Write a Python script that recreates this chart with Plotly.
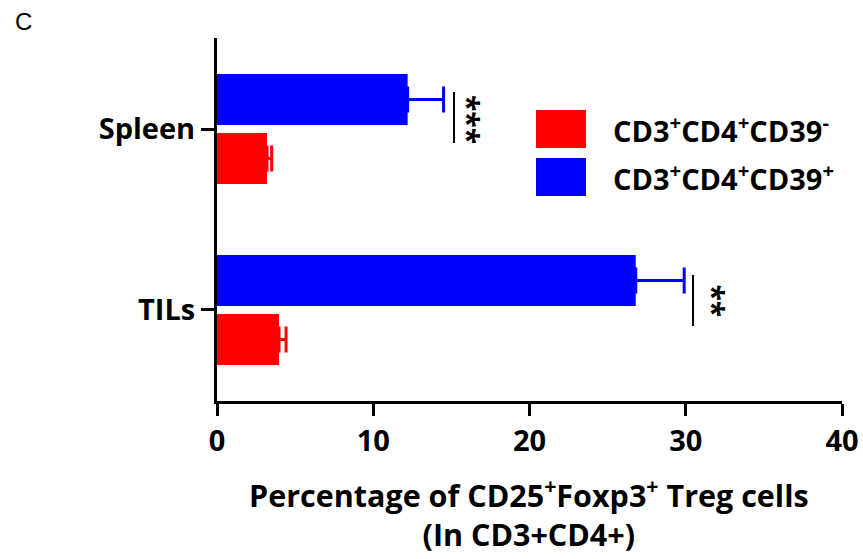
import plotly.graph_objects as go

categories = ["TILs", "Spleen"]
cd39_neg = [3.97, 3.2]
cd39_neg_err = [0.45, 0.3]
cd39_pos = [26.8, 12.2]
cd39_pos_err = [3.1, 2.3]
series_names = ["CD3<sup>+</sup>CD4<sup>+</sup>CD39<sup>-</sup>",
                "CD3<sup>+</sup>CD4<sup>+</sup>CD39<sup>+</sup>"]
x_ticks = [0, 10, 20, 30, 40]
title_lines = ["Percentage of CD25<sup>+</sup>Foxp3<sup>+</sup> Treg cells", "(In CD3+CD4+)"]
sig_labels = ["**", "***"]  # TILs, Spleen

FONT = "Open Sans"
RED = "#ff0000"
BLUE = "#0000ff"

fig = go.Figure()
fig.add_trace(go.Bar(
    y=[0, 1], x=cd39_neg, orientation="h", name=series_names[0],
    marker=dict(color=RED, line=dict(width=0)),
    error_x=dict(type="data", array=cd39_neg_err, arrayminus=[0, 0], symmetric=False,
                 color=RED, thickness=3, width=13),
))
fig.add_trace(go.Bar(
    y=[0, 1], x=cd39_pos, orientation="h", name=series_names[1],
    marker=dict(color=BLUE, line=dict(width=0)),
    error_x=dict(type="data", array=cd39_pos_err, arrayminus=[0, 0], symmetric=False,
                 color=BLUE, thickness=3, width=13),
))

W, H = 863, 559
L, R, T, B = 217, 21, 38, 158
pw, ph = W - L - R, H - T - B

def px(x):
    return (x - L) / pw

def py(y):
    return (H - B - y) / ph

# significance brackets
fig.add_shape(type="line", xref="paper", yref="paper", x0=px(454), x1=px(454),
              y0=py(143), y1=py(92), line=dict(color="black", width=2))
fig.add_shape(type="line", xref="paper", yref="paper", x0=px(693), x1=px(693),
              y0=py(326), y1=py(275), line=dict(color="black", width=2))
for txt, xc, yc in [(sig_labels[1], 472, 119), (sig_labels[0], 716, 300.5)]:
    fig.add_annotation(x=px(xc), y=py(yc), xref="paper", yref="paper", text=txt,
                       showarrow=False, textangle=90, xanchor="center", yanchor="middle",
                       xshift=-3,
                       font=dict(family=FONT, size=30, color="black", weight="bold"))

# legend
for i, (col, y0, y1, yc) in enumerate([(RED, 110, 148, 129), (BLUE, 158, 196, 177)]):
    fig.add_shape(type="rect", xref="paper", yref="paper", x0=px(536), x1=px(586),
                  y0=py(y1), y1=py(y0), fillcolor=col, line=dict(width=0))
    fig.add_annotation(x=px(611), y=py(yc), xref="paper", yref="paper", xanchor="left",
                       yanchor="middle", text=series_names[i], showarrow=False,
                       font=dict(family=FONT, size=29, color="black", weight="bold"))

# panel letter
fig.add_annotation(x=px(13), y=py(21), xref="paper", yref="paper", xanchor="left",
                   yanchor="middle", text="C", showarrow=False,
                   font=dict(family="Liberation Sans", size=24, color="black"))

# x-axis title (two lines)
fig.add_annotation(x=px(529), y=py(513), xref="paper", yref="paper", xanchor="center",
                   yanchor="middle", text="<br>".join(title_lines), showarrow=False,
                   font=dict(family=FONT, size=30.5, color="black", weight="bold"))

fig.update_layout(
    width=W, height=H, autosize=False,
    margin=dict(l=L, r=R, t=T, b=B, pad=0, autoexpand=False),
    paper_bgcolor="white", plot_bgcolor="white",
    barmode="group", bargap=0.348, bargroupgap=0.136,
    showlegend=False,
    font=dict(family=FONT, color="black"),
    xaxis=dict(range=[0, 40], tickvals=x_ticks, ticktext=[str(v) for v in x_ticks],
               automargin=False,
               showline=True, linecolor="black", linewidth=3, ticks="outside",
               ticklen=12, tickwidth=3, tickcolor="black", showgrid=False, zeroline=False,
               tickfont=dict(family=FONT, size=29, color="black", weight="bold")),
    yaxis=dict(range=[-0.503, 1.503], tickvals=[0, 1], ticktext=categories,
               automargin=False,
               showline=True, linecolor="black", linewidth=3, ticks="outside",
               ticklen=13, tickwidth=3, tickcolor="black", showgrid=False, zeroline=False,
               tickfont=dict(family=FONT, size=29, color="black", weight="bold")),
)

fig.write_html("out.html", config={"displayModeBar": False, "responsive": False},
               post_script="document.body.style.margin='0';")
